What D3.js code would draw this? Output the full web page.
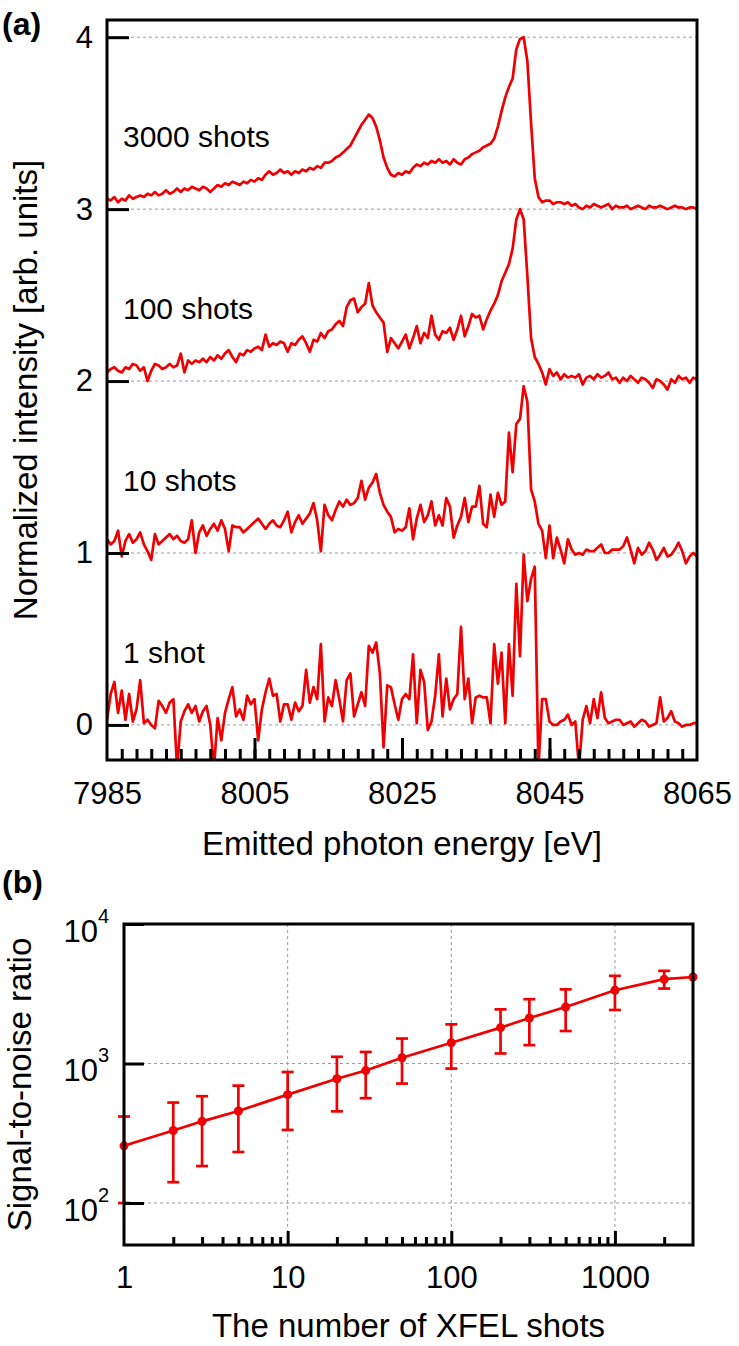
<!DOCTYPE html>
<html lang="en">
<head>
<meta charset="UTF-8">
<title>XFEL emission spectra and signal-to-noise ratio</title>
<style>
  body { margin: 0; background: #fff; }
  svg { display: block; font-family: "Liberation Sans", Arial, sans-serif; }
  .grid line { stroke: #9a9a9a; stroke-width: 1; stroke-dasharray: 3,3; }
  .frame { fill: none; stroke: #000; stroke-width: 3; }
  .axis .tick line { stroke: #000; stroke-width: 3; }
  .axis text { fill: #000; }
</style>
</head>
<body>
<svg id="chart" width="739" height="1346"></svg>
<script src="https://d3js.org/d3.v7.min.js"></script>
<script>
// ---------- panel (a): normalized spectra, 0.5 eV grid from 7985 to 8065 eV
const eStart = 7985, eStep = 0.5;

const shot1 = [
  0.03, 0.18, 0.25, 0.07, 0.20, 0.03, 0.18, 0.02, 0.09, 0.26,
  0.01, 0.03, 0.00, -0.02, 0.14, 0.11, 0.07, 0.13, 0.15, -0.25,
  0.02, 0.08, 0.12, 0.07, 0.11, 0.02, 0.08, 0.11, 0.00, -0.25,
  0.04, -0.09, 0.07, 0.15, 0.22, 0.05, 0.09, 0.03, 0.17, 0.12,
  0.15, -0.09, 0.09, 0.19, 0.27, 0.17, 0.18, 0.02, 0.12, 0.12,
  0.03, 0.13, 0.08, 0.11, 0.32, 0.13, 0.22, 0.15, 0.47, 0.02,
  0.16, 0.11, 0.26, 0.15, 0.02, 0.26, 0.30, 0.05, 0.12, 0.19,
  0.11, 0.46, 0.42, 0.48, 0.30, -0.13, 0.23, 0.22, 0.12, 0.03,
  0.15, 0.18, 0.15, 0.41, 0.01, 0.32, 0.25, -0.03, 0.02, 0.17,
  0.41, 0.05, 0.27, 0.09, 0.15, 0.18, 0.57, 0.15, 0.27, 0.01,
  0.16, 0.17, 0.16, 0.16, 0.01, 0.47, 0.24, 0.42, 0.01, 0.47,
  0.17, 0.82, 0.40, 0.99, 0.72, 0.85, 0.92, -0.25, 0.15, 0.15,
  0.02, 0.00, 0.00, 0.02, 0.03, 0.06, 0.00, 0.02, -0.25, 0.03,
  0.11, 0.01, 0.15, 0.04, 0.19, 0.04, 0.01, 0.02, 0.03, 0.03,
  0.00, 0.01, 0.02, -0.01, 0.01, 0.03, 0.02, -0.01, 0.00, 0.01,
  0.16, 0.02, 0.04, 0.08, 0.02, 0.01, -0.01, 0.00, 0.00, 0.01,
  0.01
];

const shot10 = [
  0.08, 0.05, 0.07, 0.13, -0.02, 0.07, 0.11, 0.06, 0.08, 0.12,
  0.05, 0.01, -0.04, 0.11, 0.05, 0.07, 0.09, 0.11, 0.08, 0.10,
  0.07, 0.06, 0.08, 0.19, 0.00, 0.12, 0.16, 0.10, 0.14, 0.17,
  0.13, 0.19, 0.14, 0.01, 0.16, 0.15, 0.15, 0.12, 0.14, 0.16,
  0.18, 0.20, 0.17, 0.14, 0.17, 0.19, 0.16, 0.15, 0.19, 0.24,
  0.12, 0.18, 0.22, 0.17, 0.20, 0.23, 0.29, 0.19, 0.01, 0.28,
  0.22, 0.19, 0.25, 0.30, 0.27, 0.31, 0.28, 0.29, 0.32, 0.42,
  0.31, 0.38, 0.41, 0.46, 0.35, 0.28, 0.24, 0.21, 0.12, 0.14,
  0.13, 0.15, 0.26, 0.08, 0.20, 0.28, 0.18, 0.22, 0.30, 0.16,
  0.22, 0.16, 0.32, 0.27, 0.09, 0.16, 0.21, 0.32, 0.18, 0.27,
  0.27, 0.39, 0.17, 0.15, 0.34, 0.21, 0.35, 0.28, 0.30, 0.70,
  0.47, 0.75, 0.78, 0.97, 0.88, 0.37, 0.30, 0.17, 0.13, -0.03,
  0.16, -0.03, 0.09, 0.02, -0.06, 0.08, 0.02, -0.01, 0.00, -0.01,
  0.02, 0.01, 0.01, 0.03, 0.05, 0.00, 0.00, 0.02, 0.02, 0.02,
  0.04, 0.09, 0.02, -0.06, 0.03, -0.01, 0.01, 0.06, 0.02, -0.04,
  -0.01, 0.03, -0.02, -0.01, 0.02, 0.06, 0.01, -0.06, -0.02, 0.00,
  -0.02
];

const shot100 = [
  0.05, 0.07, 0.08, 0.06, 0.05, 0.08, 0.07, 0.10, 0.09, 0.06,
  0.08, 0.00, 0.06, 0.10, 0.09, 0.07, 0.08, 0.10, 0.08, 0.09,
  0.16, 0.05, 0.12, 0.10, 0.12, 0.11, 0.13, 0.11, 0.14, 0.12,
  0.15, 0.13, 0.16, 0.18, 0.14, 0.11, 0.16, 0.15, 0.18, 0.17,
  0.19, 0.20, 0.18, 0.27, 0.20, 0.22, 0.21, 0.23, 0.22, 0.17,
  0.22, 0.21, 0.24, 0.26, 0.22, 0.17, 0.24, 0.23, 0.28, 0.25,
  0.29, 0.30, 0.33, 0.35, 0.32, 0.43, 0.47, 0.48, 0.40, 0.43,
  0.45, 0.57, 0.44, 0.40, 0.37, 0.34, 0.17, 0.25, 0.22, 0.19,
  0.23, 0.27, 0.19, 0.25, 0.32, 0.22, 0.28, 0.25, 0.38, 0.27,
  0.24, 0.29, 0.28, 0.31, 0.24, 0.30, 0.38, 0.26, 0.32, 0.39,
  0.37, 0.38, 0.30, 0.36, 0.41, 0.45, 0.50, 0.58, 0.63, 0.68,
  0.77, 0.94, 1.00, 0.94, 0.61, 0.25, 0.14, 0.10, 0.05, -0.02,
  0.07, 0.03, 0.05, 0.01, 0.04, 0.02, 0.03, 0.02, 0.04, -0.02,
  0.02, 0.03, 0.01, 0.04, 0.02, 0.03, 0.05, 0.01, 0.02, -0.01,
  0.02, 0.00, 0.03, 0.01, -0.01, 0.02, 0.01, -0.01, -0.04, 0.01,
  0.00, -0.02, -0.05, 0.01, -0.01, 0.03, 0.01, 0.02, -0.01, 0.02,
  0.01
];

const shot3000 = [
  0.06, 0.05, 0.07, 0.04, 0.06, 0.05, 0.08, 0.06, 0.07, 0.08,
  0.07, 0.09, 0.08, 0.10, 0.08, 0.09, 0.11, 0.09, 0.10, 0.12,
  0.10, 0.12, 0.11, 0.13, 0.12, 0.11, 0.13, 0.12, 0.10, 0.12,
  0.14, 0.13, 0.15, 0.14, 0.16, 0.15, 0.14, 0.16, 0.15, 0.17,
  0.16, 0.18, 0.17, 0.20, 0.22, 0.20, 0.21, 0.23, 0.21, 0.22,
  0.20, 0.22, 0.21, 0.23, 0.22, 0.24, 0.23, 0.25, 0.24, 0.27,
  0.27, 0.28, 0.30, 0.31, 0.33, 0.35, 0.37, 0.41, 0.45, 0.49,
  0.52, 0.55, 0.53, 0.48, 0.40, 0.30, 0.24, 0.20, 0.19, 0.21,
  0.20, 0.22, 0.21, 0.24, 0.26, 0.25, 0.27, 0.26, 0.28, 0.27,
  0.29, 0.27, 0.28, 0.26, 0.29, 0.27, 0.26, 0.29, 0.30, 0.32,
  0.33, 0.34, 0.36, 0.37, 0.38, 0.41, 0.48, 0.57, 0.65, 0.71,
  0.76, 0.93, 0.99, 1.00, 0.86, 0.50, 0.18, 0.07, 0.04, 0.05,
  0.05, 0.03, 0.04, 0.04, 0.03, 0.04, 0.02, 0.03, 0.01, 0.00,
  0.02, 0.01, 0.03, 0.02, 0.01, 0.02, 0.03, 0.00, 0.02, 0.01,
  0.01, 0.02, 0.00, 0.01, 0.02, 0.01, 0.00, 0.02, 0.01, 0.01,
  0.02, 0.01, 0.00, 0.01, 0.02, 0.01, 0.01, 0.00, 0.01, 0.01,
  0.00
];

const spectra = [shot1, shot10, shot100, shot3000];
const spectrumLabels = ["1 shot", "10 shots", "100 shots", "3000 shots"];
const spectrumOffsets = [0, 1, 2, 3];
const xTicksA = [7985, 8005, 8025, 8045, 8065];
const yTicksA = [0, 1, 2, 3, 4];

// ---------- panel (b): signal-to-noise ratio vs number of shots
const shots = [1, 2, 3, 5, 10, 20, 30, 50, 100, 200, 300, 500, 1000, 2000, 3000];
const snr = [257, 331, 385, 457, 598, 777, 890, 1100, 1408, 1807, 2118, 2540, 3350, 4020, 4170];
const snrLow = [100, 141, 184, 232, 334, 454, 564, 718, 920, 1180, 1354, 1710, 2420, 3445, null];
const snrHigh = [417, 525, 583, 694, 869, 1117, 1210, 1510, 1908, 2444, 2890, 3400, 4250, 4615, null];
const xTicksB = [1, 10, 100, 1000];
const yTicksB = [100, 1000, 10000];

const red = "#f00000";
const titleSize = 33, tickSize = 31, labelSize = 30;
const svg = d3.select("#chart");
svg.append("rect").attr("width", 739).attr("height", 1346).attr("fill", "#fff");

// ===================== panel (a) =====================
const a = { left: 107, right: 697, top: 20, bottom: 760 };
const xA = d3.scaleLinear().domain([7985, 8065]).range([a.left, a.right]);
const yA = d3.scaleLinear().domain([-0.204, 4.1]).range([a.bottom, a.top]);

svg.append("g").attr("class", "grid")
  .selectAll("line").data(yTicksA).join("line")
  .attr("x1", a.left).attr("x2", a.right)
  .attr("y1", d => yA(d)).attr("y2", d => yA(d));

svg.append("clipPath").attr("id", "clipA")
  .append("rect")
  .attr("x", a.left).attr("y", a.top)
  .attr("width", a.right - a.left).attr("height", a.bottom - a.top);

spectra.forEach((s, k) => {
  const line = d3.line()
    .x((d, i) => xA(eStart + i * eStep))
    .y(d => yA(d + spectrumOffsets[k]));
  svg.append("path")
    .datum(s)
    .attr("clip-path", "url(#clipA)")
    .attr("fill", "none")
    .attr("stroke", red)
    .attr("stroke-width", 2.7)
    .attr("stroke-linejoin", "round")
    .attr("d", line);
});

// curve labels
svg.append("g").selectAll("text").data(spectrumLabels).join("text")
  .attr("x", a.left + 16)
  .attr("y", (d, i) => yA(spectrumOffsets[i] + 0.36))
  .attr("font-size", labelSize)
  .text(d => d);

// x axis (a): minor, major, labels
svg.append("g").attr("class", "axis").attr("transform", `translate(0,${a.bottom})`)
  .call(d3.axisBottom(xA).tickValues(d3.range(7987, 8064, 2)).tickSize(-11).tickFormat(""))
  .call(g => g.select(".domain").remove());
svg.append("g").attr("class", "axis").attr("transform", `translate(0,${a.bottom})`)
  .call(d3.axisBottom(xA).tickValues([8005, 8025, 8045]).tickSize(-22).tickFormat(""))
  .call(g => g.select(".domain").remove());
svg.append("g").attr("class", "axis").attr("transform", `translate(0,${a.bottom})`)
  .call(d3.axisBottom(xA).tickValues(xTicksA).tickSize(0).tickPadding(22).tickFormat(d3.format("d")))
  .call(g => g.select(".domain").remove())
  .attr("font-size", tickSize).attr("font-family", null);

// y axis (a)
svg.append("g").attr("class", "axis").attr("transform", `translate(${a.left},0)`)
  .call(d3.axisLeft(yA).tickValues(yTicksA).tickSize(-22).tickPadding(14).tickFormat(d3.format("d")))
  .call(g => g.select(".domain").remove())
  .attr("font-size", tickSize).attr("font-family", null);

svg.append("rect").attr("class", "frame")
  .attr("x", a.left).attr("y", a.top)
  .attr("width", a.right - a.left).attr("height", a.bottom - a.top);

svg.append("text")
  .attr("x", (a.left + a.right) / 2).attr("y", 855)
  .attr("text-anchor", "middle").attr("font-size", titleSize)
  .text("Emitted photon energy [eV]");

svg.append("text")
  .attr("transform", `translate(37,${(a.top + a.bottom) / 2}) rotate(-90)`)
  .attr("text-anchor", "middle").attr("font-size", titleSize)
  .text("Normalized intensity [arb. units]");

svg.append("text")
  .attr("x", 2).attr("y", 35)
  .attr("font-size", 32).attr("font-weight", "bold")
  .text("(a)");

// ===================== panel (b) =====================
const b = { left: 124, right: 693, top: 924, bottom: 1245 };
const xB = d3.scaleLog().domain([1, 3000]).range([b.left, b.right]);
const yB = d3.scaleLog().domain([50, 10000]).range([b.bottom, b.top]);

const gridB = svg.append("g").attr("class", "grid");
gridB.selectAll("line.v").data([10, 100, 1000]).join("line").attr("class", "v")
  .attr("x1", d => xB(d)).attr("x2", d => xB(d))
  .attr("y1", b.top).attr("y2", b.bottom);
gridB.selectAll("line.h").data([100, 1000]).join("line").attr("class", "h")
  .attr("x1", b.left).attr("x2", b.right)
  .attr("y1", d => yB(d)).attr("y2", d => yB(d));

const pts = shots.map((s, i) => ({ s, v: snr[i], lo: snrLow[i], hi: snrHigh[i] }));

// error bars
const eb = svg.append("g").attr("stroke", red).attr("stroke-width", 2.7).attr("fill", "none");
pts.filter(d => d.lo != null).forEach(d => {
  const x = xB(d.s);
  eb.append("line").attr("x1", x).attr("x2", x).attr("y1", yB(d.lo)).attr("y2", yB(d.hi));
  eb.append("line").attr("x1", x - 6).attr("x2", x + 6).attr("y1", yB(d.lo)).attr("y2", yB(d.lo));
  eb.append("line").attr("x1", x - 6).attr("x2", x + 6).attr("y1", yB(d.hi)).attr("y2", yB(d.hi));
});

svg.append("path").datum(pts)
  .attr("fill", "none").attr("stroke", red).attr("stroke-width", 2.7)
  .attr("d", d3.line().x(d => xB(d.s)).y(d => yB(d.v)));

svg.append("g").selectAll("circle").data(pts).join("circle")
  .attr("cx", d => xB(d.s)).attr("cy", d => yB(d.v)).attr("r", 4.5)
  .attr("fill", red);

// x axis (b)
const minorB = [2, 3, 4, 5, 6, 7, 8, 9, 20, 30, 40, 50, 60, 70, 80, 90,
                200, 300, 400, 500, 600, 700, 800, 900, 2000];
svg.append("g").attr("class", "axis").attr("transform", `translate(0,${b.bottom})`)
  .call(d3.axisBottom(xB).tickValues(minorB).tickSize(-8).tickFormat(""))
  .call(g => g.select(".domain").remove());
svg.append("g").attr("class", "axis").attr("transform", `translate(0,${b.bottom})`)
  .call(d3.axisBottom(xB).tickValues([10, 100, 1000]).tickSize(-14).tickFormat(""))
  .call(g => g.select(".domain").remove());
svg.append("g").attr("class", "axis").attr("transform", `translate(0,${b.bottom})`)
  .call(d3.axisBottom(xB).tickValues(xTicksB).tickSize(0).tickPadding(21).tickFormat(d3.format("d")))
  .call(g => g.select(".domain").remove())
  .attr("font-size", tickSize).attr("font-family", null);

// y axis (b)
svg.append("g").attr("class", "axis").attr("transform", `translate(${b.left},0)`)
  .call(d3.axisLeft(yB).tickValues(yTicksB).tickSize(-20).tickPadding(15).tickFormat(""))
  .call(g => g.select(".domain").remove())
  .attr("font-size", tickSize).attr("font-family", null)
  .call(g => g.selectAll(".tick text").each(function (d) {
    const t = d3.select(this).attr("dy", "0.55em");
    t.append("tspan").text("10");
    t.append("tspan").attr("font-size", 20).attr("dy", "-0.95em")
      .text(Math.round(Math.log10(d)));
  }));

svg.append("rect").attr("class", "frame")
  .attr("x", b.left).attr("y", b.top)
  .attr("width", b.right - b.left).attr("height", b.bottom - b.top);

svg.append("text")
  .attr("x", (b.left + b.right) / 2).attr("y", 1337)
  .attr("text-anchor", "middle").attr("font-size", titleSize)
  .text("The number of XFEL shots");

svg.append("text")
  .attr("transform", `translate(31,${(b.top + b.bottom) / 2}) rotate(-90)`)
  .attr("text-anchor", "middle").attr("font-size", titleSize)
  .text("Signal-to-noise ratio");

svg.append("text")
  .attr("x", 2).attr("y", 893)
  .attr("font-size", 32).attr("font-weight", "bold")
  .text("(b)");
</script>
</body>
</html>
